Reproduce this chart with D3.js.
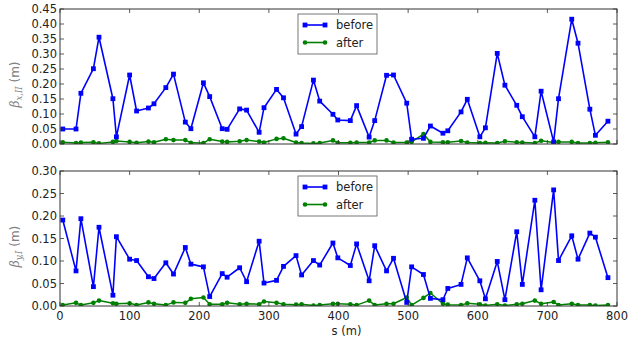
<!DOCTYPE html>
<html>
<head>
<meta charset="utf-8">
<script src="https://cdn.jsdelivr.net/npm/d3@7/dist/d3.min.js"></script>
<style>
  html, body { margin:0; padding:0; background:#fff; }
  svg { display:block; font-family:"DejaVu Sans", sans-serif; }
</style>
</head>
<body>
<svg id="chart" width="633" height="338"></svg>
<script>
// ---- data ----
const S = [4, 23, 30, 48, 56, 76, 81, 100, 110, 127, 135, 152, 163, 180, 188, 206, 215, 233, 240, 258,
           268, 286, 293, 311, 321, 339, 347, 364, 373, 392, 399, 417, 426, 444, 452, 469, 479, 498, 505, 522,
           532, 550, 557, 576, 585, 603, 611, 628, 639, 656, 664, 682, 691, 709, 716, 735, 744, 761, 769, 787];

const BX_BEFORE = [0.05, 0.05, 0.169, 0.251, 0.356, 0.151, 0.024, 0.23, 0.11, 0.12, 0.134, 0.188, 0.233, 0.073, 0.051, 0.204, 0.158, 0.051, 0.049, 0.117,
                   0.113, 0.039, 0.121, 0.182, 0.154, 0.033, 0.058, 0.213, 0.143, 0.099, 0.08, 0.078, 0.128, 0.023, 0.078, 0.229, 0.23, 0.136, 0.016, 0.019,
                   0.06, 0.036, 0.044, 0.107, 0.149, 0.024, 0.054, 0.302, 0.196, 0.129, 0.091, 0.024, 0.176, 0.007, 0.151, 0.416, 0.336, 0.116, 0.029, 0.076];
const BX_AFTER  = [0.006, 0.003, 0.005, 0.006, 0.002, 0.007, 0.01, 0.007, 0.004, 0.008, 0.006, 0.016, 0.013, 0.013, 0.004, 0.003, 0.016, 0.008, 0.007, 0.009,
                   0.013, 0.008, 0.005, 0.017, 0.019, 0.005, 0.003, 0.002, 0.003, 0.012, 0.004, 0.004, 0.005, 0.005, 0.012, 0.012, 0.005, 0.005, 0.007, 0.033,
                   0.007, 0.006, 0.006, 0.01, 0.005, 0.003, 0.004, 0.003, 0.009, 0.006, 0.005, 0.003, 0.011, 0.005, 0.007, 0.007, 0.003, 0.003, 0.004, 0.006];

const BY_BEFORE = [0.191, 0.078, 0.194, 0.043, 0.175, 0.024, 0.154, 0.104, 0.101, 0.065, 0.061, 0.096, 0.071, 0.13, 0.093, 0.087, 0.021, 0.072, 0.064, 0.085,
                   0.054, 0.144, 0.051, 0.057, 0.088, 0.112, 0.069, 0.101, 0.091, 0.14, 0.107, 0.09, 0.138, 0.056, 0.134, 0.078, 0.106, 0.008, 0.087, 0.07,
                   0.017, 0.014, 0.039, 0.048, 0.107, 0.056, 0.016, 0.099, 0.014, 0.165, 0.048, 0.235, 0.036, 0.258, 0.101, 0.156, 0.104, 0.162, 0.153, 0.063];
const BY_AFTER  = [0.002, 0.007, 0.002, 0.007, 0.012, 0.006, 0.005, 0.006, 0.002, 0.008, 0.005, 0.002, 0.008, 0.007, 0.016, 0.019, 0.004, 0.004, 0.007, 0.004,
                   0.005, 0.004, 0.01, 0.007, 0.004, 0.003, 0.004, 0.001, 0.002, 0.005, 0.005, 0.004, 0.002, 0.012, 0.002, 0.005, 0.005, 0.019, 0.002, 0.018,
                   0.029, 0.005, 0.003, 0.002, 0.006, 0.004, 0.001, 0.004, 0.001, 0.004, 0.005, 0.012, 0.005, 0.009, 0.002, 0.005, 0.002, 0.002, 0.001, 0.002];

const X_TICKS = [0, 100, 200, 300, 400, 500, 600, 700, 800];
const Y_TICKS_TOP = [0, 0.05, 0.10, 0.15, 0.20, 0.25, 0.30, 0.35, 0.40, 0.45];
const Y_TICKS_BOT = [0, 0.05, 0.10, 0.15, 0.20, 0.25, 0.30];

/* ---------- layout ---------- */
const L = 60, R = 617;
const PANELS = [
  { top: 9,   bottom: 144, yMax: 0.45, yTicks: Y_TICKS_TOP, before: BX_BEFORE, after: BX_AFTER, sub: "x,II", xLabels: false },
  { top: 171, bottom: 306, yMax: 0.30, yTicks: Y_TICKS_BOT, before: BY_BEFORE, after: BY_AFTER, sub: "y,I",  xLabels: true }
];
const BLUE = "#0000ff", GREEN = "#008000";
const TICK = 4;

const svg = d3.select("#chart");
const x = d3.scaleLinear().domain([0, 800]).range([L, R]);

function drawPanel(p){
  const y = d3.scaleLinear().domain([0, p.yMax]).range([p.bottom, p.top]);
  const g = svg.append("g");

  // clip so markers at edge look like matplotlib
  const clipId = "clip" + p.top;
  svg.append("clipPath").attr("id", clipId)
    .append("rect").attr("x", L).attr("y", p.top).attr("width", R - L).attr("height", p.bottom - p.top);

  const data = g.append("g").attr("clip-path", `url(#${clipId})`);
  const line = d3.line().x((d, i) => x(S[i])).y(d => y(d));

  // after (green, circles)
  data.append("path").attr("d", line(p.after)).attr("fill", "none")
    .attr("stroke", GREEN).attr("stroke-width", 1.5).attr("stroke-linejoin", "round");
  data.selectAll(".ga").data(p.after).join("circle")
    .attr("cx", (d, i) => x(S[i])).attr("cy", d => y(d)).attr("r", 2.3).attr("fill", GREEN);

  // before (blue, squares)
  data.append("path").attr("d", line(p.before)).attr("fill", "none")
    .attr("stroke", BLUE).attr("stroke-width", 1.6).attr("stroke-linejoin", "round");
  data.selectAll(".bb").data(p.before).join("rect")
    .attr("x", (d, i) => x(S[i]) - 2.4).attr("y", d => y(d) - 2.4)
    .attr("width", 4.8).attr("height", 4.8).attr("fill", BLUE);

  // frame
  g.append("rect").attr("x", L).attr("y", p.top).attr("width", R - L).attr("height", p.bottom - p.top)
    .attr("fill", "none").attr("stroke", "#333").attr("stroke-width", 1);

  // inward ticks on all four sides
  const ax = g.append("g").attr("stroke", "#333").attr("stroke-width", 0.8);
  X_TICKS.forEach(t => {
    ax.append("line").attr("x1", x(t)).attr("x2", x(t)).attr("y1", p.bottom).attr("y2", p.bottom - TICK);
    ax.append("line").attr("x1", x(t)).attr("x2", x(t)).attr("y1", p.top).attr("y2", p.top + TICK);
  });
  p.yTicks.forEach(t => {
    ax.append("line").attr("x1", L).attr("x2", L + TICK).attr("y1", y(t)).attr("y2", y(t));
    ax.append("line").attr("x1", R).attr("x2", R - TICK).attr("y1", y(t)).attr("y2", y(t));
  });

  // y tick labels
  g.selectAll(".yl").data(p.yTicks).join("text")
    .attr("x", L - 3).attr("y", d => y(d)).attr("dy", "0.36em")
    .attr("text-anchor", "end").attr("font-size", 11.5).attr("fill", "#222")
    .text(d => d.toFixed(2));

  if(p.xLabels){
    g.selectAll(".xl").data(X_TICKS).join("text")
      .attr("x", d => x(d)).attr("y", p.bottom + 14)
      .attr("text-anchor", "middle").attr("font-size", 11.5).attr("fill", "#222")
      .text(d => d);
    g.append("text").attr("x", (L + R) / 2 + 8).attr("y", p.bottom + 29)
      .attr("text-anchor", "middle").attr("font-size", 11.5).attr("fill", "#222").text("s (m)");
  }

  // y label  β_{sub} (m)
  const cy = (p.top + p.bottom) / 2 + 8;
  const yl = g.append("text").attr("transform", `translate(19,${cy}) rotate(-90)`)
    .attr("text-anchor", "middle").attr("font-size", 12).attr("fill", "#808080");
  yl.append("tspan").attr("font-style", "italic").attr("font-family", "DejaVu Serif").text("β");
  yl.append("tspan").attr("font-style", "italic").attr("font-family", "DejaVu Serif")
    .attr("font-size", 8.5).attr("dy", 3).text(p.sub);
  yl.append("tspan").attr("dy", -3).text(" (m)");

  // legend
  const lx = 298, ly = p.top + 5, lw = 79, lh = 40;
  const lg = g.append("g");
  lg.append("rect").attr("x", lx).attr("y", ly).attr("width", lw).attr("height", lh)
    .attr("fill", "#fff").attr("stroke", "#555").attr("stroke-width", 0.8);
  const items = [
    { name: "before", color: BLUE, shape: "square" },
    { name: "after",  color: GREEN, shape: "circle" }
  ];
  items.forEach((it, i) => {
    const yy = ly + 11 + i * 17.5;
    lg.append("line").attr("x1", lx + 7).attr("x2", lx + 27).attr("y1", yy).attr("y2", yy)
      .attr("stroke", it.color).attr("stroke-width", 1.6);
    [lx + 7, lx + 27].forEach(cx => {
      if(it.shape === "square")
        lg.append("rect").attr("x", cx - 2.4).attr("y", yy - 2.4).attr("width", 4.8).attr("height", 4.8).attr("fill", it.color);
      else
        lg.append("circle").attr("cx", cx).attr("cy", yy).attr("r", 2.3).attr("fill", it.color);
    });
    lg.append("text").attr("x", lx + 38).attr("y", yy).attr("dy", "0.36em")
      .attr("font-size", 11.5).attr("fill", "#222").text(it.name);
  });
}

PANELS.forEach(drawPanel);
</script>
</body>
</html>
